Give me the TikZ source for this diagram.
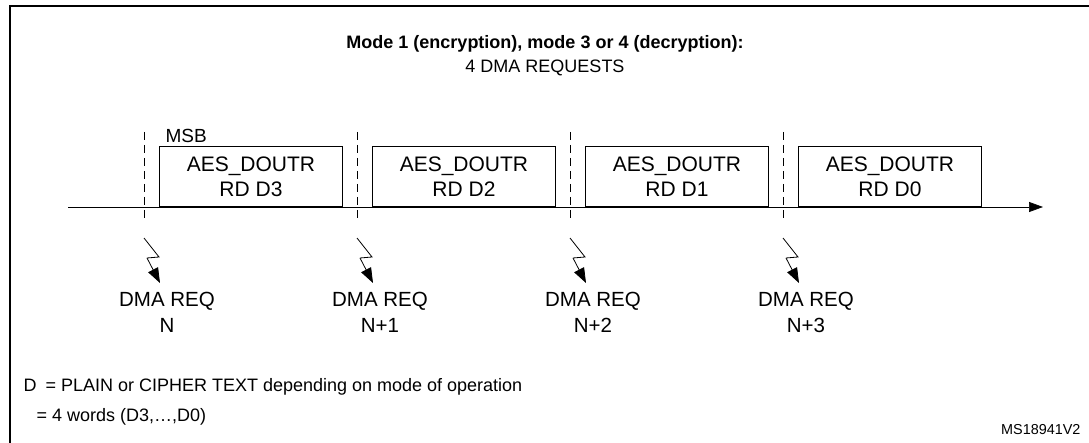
\documentclass[tikz,border=0pt]{standalone}
\usepackage{fontspec}
\setmainfont{Liberation Sans}
\usetikzlibrary{arrows.meta,positioning}
\tikzset{
  regbox/.style={draw, line width=0.9pt, minimum width=183pt, minimum height=60pt,
    inner sep=0pt, align=center, font=\fontsize{21}{25}\selectfont, anchor=south west},
  reqlabel/.style={align=center, font=\fontsize{20.5}{26}\selectfont},
  slotline/.style={dashed, dash pattern=on 8pt off 5pt, line width=0.7pt},
  bolt/.style={line width=0.8pt},
  bolthead/.style={line width=0.8pt, -{Triangle[length=15pt,width=11pt]}}
}
\begin{document}
\begin{tikzpicture}[x=1pt,y=-1pt]
          \useasboundingbox (0,0) rectangle (1089,443);
          % frame
          \draw[line width=1.2pt] (10,443) -- (10,6) -- (1089,6);

          % heading
          \node[font=\bfseries\fontsize{18}{22}\selectfont] (title) at (545,44) {Mode 1 (encryption), mode 3 or 4 (decryption):};
          \node[font=\fontsize{18}{22}\selectfont, below=0pt of title] (subtitle) {4 DMA REQUESTS};

          % time axis
          \coordinate (axis_start) at (68,207);
          \coordinate (axis_end) at (1043,207);
          \draw[line width=0.7pt, -{Triangle[length=14pt,width=10pt]}] (axis_start) -- (axis_end);

          % slots
          \foreach \i/\d/\n in {0/D3/N, 1/D2/N+1, 2/D1/N+2, 3/D0/N+3} {
            \coordinate (slot_top_\i) at (144+213*\i,132);
            \coordinate (slot_bottom_\i) at (144+213*\i,222);
            \draw[slotline] (slot_top_\i) -- (slot_bottom_\i);
            \node[regbox] (reg_\i) at (159+213*\i,207) {AES\_DOUTR\\RD \d};
            \coordinate (bolt_start_\i) at (144+213*\i,238);
            \coordinate (bolt_knee_\i) at (159+213*\i,257);
            \coordinate (bolt_mid_\i) at (147+213*\i,258);
            \coordinate (bolt_end_\i) at (160+213*\i,283);
            \draw[bolt] (bolt_start_\i) -- (bolt_knee_\i) -- (bolt_mid_\i);
            \draw[bolthead] (bolt_mid_\i) -- (bolt_end_\i);
            \node[reqlabel] (req_\i) at (167+213*\i,312) {DMA REQ\\\n};
          }

          \node[font=\fontsize{19}{23}\selectfont, above right=0pt and 0pt of reg_0.north west, xshift=3pt] (msb) {MSB};

          % legend
          \node[font=\fontsize{18}{22}\selectfont, anchor=west] (legend_d) at (20,387) {D\enspace = PLAIN or CIPHER TEXT depending on mode of operation};
          \node[font=\fontsize{18}{22}\selectfont, anchor=west] (legend_w) at (33,417) {= 4 words (D3,\dots,D0)};
          \node[font=\fontsize{14.4}{17}\selectfont, anchor=east] (ref) at (1084,430) {MS18941V2};
\end{tikzpicture}
\end{document}
